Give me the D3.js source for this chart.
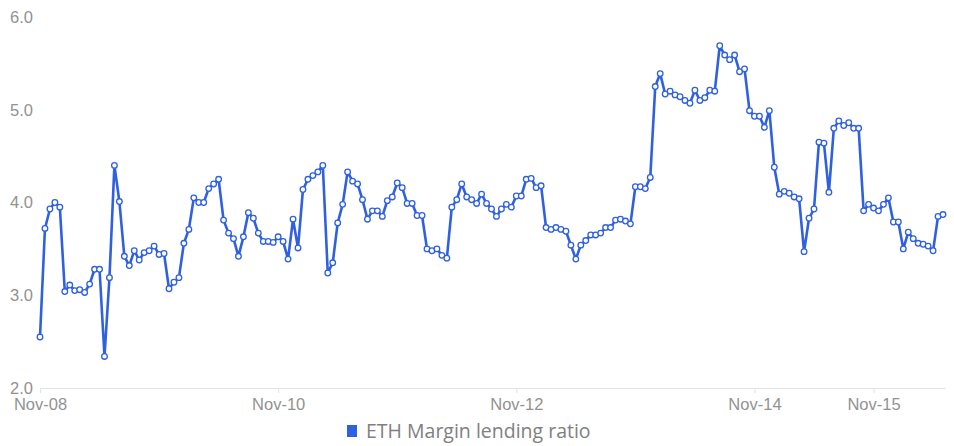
<!DOCTYPE html>
<html>
<head>
<meta charset="utf-8">
<script src="https://cdn.jsdelivr.net/npm/d3@7"></script>
<style>
  html, body { margin: 0; padding: 0; background: #fff; }
  svg { display: block; font-family: "Open Sans", "Noto Sans", sans-serif; }
</style>
</head>
<body>
<svg id="chart" width="954" height="446"></svg>
<script>
// ---- data ----
const seriesName = "ETH Margin lending ratio";
const startTime = "2023-11-08T00:00:00"; // hourly observations
const ratioValues = [
  2.55, 3.72, 3.93, 4.00, 3.95, 3.04, 3.11, 3.05, 3.06, 3.03, 3.12, 3.28, 3.28, 2.34, 3.19, 4.40,
  4.01, 3.42, 3.32, 3.48, 3.38, 3.46, 3.48, 3.53, 3.44, 3.45, 3.07, 3.14, 3.19, 3.56, 3.71, 4.05,
  4.00, 4.00, 4.15, 4.20, 4.25, 3.81, 3.67, 3.61, 3.42, 3.63, 3.89, 3.83, 3.67, 3.58, 3.58, 3.57,
  3.63, 3.58, 3.39, 3.82, 3.51, 4.14, 4.25, 4.29, 4.33, 4.40, 3.24, 3.35, 3.78, 3.98, 4.33, 4.23,
  4.20, 4.03, 3.82, 3.91, 3.91, 3.85, 4.02, 4.06, 4.21, 4.16, 3.99, 3.99, 3.86, 3.86, 3.50, 3.48,
  3.50, 3.43, 3.40, 3.95, 4.03, 4.20, 4.06, 4.03, 3.99, 4.09, 3.99, 3.93, 3.85, 3.93, 3.98, 3.95,
  4.07, 4.07, 4.25, 4.26, 4.16, 4.18, 3.73, 3.71, 3.73, 3.71, 3.69, 3.54, 3.39, 3.54, 3.59, 3.65,
  3.65, 3.67, 3.73, 3.73, 3.81, 3.82, 3.80, 3.77, 4.17, 4.17, 4.15, 4.27, 5.25, 5.39, 5.17, 5.20,
  5.16, 5.14, 5.10, 5.07, 5.21, 5.10, 5.13, 5.21, 5.20, 5.69, 5.59, 5.54, 5.59, 5.41, 5.44, 4.99,
  4.93, 4.93, 4.81, 4.99, 4.38, 4.09, 4.12, 4.10, 4.06, 4.04, 3.47, 3.83, 3.93, 4.65, 4.64, 4.11,
  4.80, 4.88, 4.83, 4.86, 4.80, 4.80, 3.91, 3.98, 3.94, 3.91, 3.98, 4.05, 3.79, 3.79, 3.50, 3.68,
  3.61, 3.56, 3.55, 3.53, 3.48, 3.85, 3.87
];
const xTickDates = ["2023-11-08", "2023-11-10", "2023-11-12", "2023-11-14", "2023-11-15"];
const yTickValues = [2, 3, 4, 5, 6];

// ---- build ----
const t0 = new Date(startTime);
const data = ratioValues.map((v, i) => ({ date: d3.timeHour.offset(t0, i), value: v }));

const svg = d3.select("#chart");
const color = "#2f60e2";
const labelColor = "#929292";

const x = d3.scaleTime()
  .domain(d3.extent(data, d => d.date))
  .range([40, 943]);
const y = d3.scaleLinear().domain([2, 6]).range([388, 17]);

// x axis
const xAxis = d3.axisBottom(x)
  .tickValues(xTickDates.map(s => new Date(s + "T00:00:00")))
  .tickFormat(d3.timeFormat("%b-%d"))
  .tickSize(5)
  .tickSizeOuter(0);
const gx = svg.append("g").attr("transform", "translate(0,388)").call(xAxis);
gx.select(".domain").attr("stroke", "#e3e3e3").attr("stroke-width", 1.2)
  .attr("d", "M40,0.5H946");
gx.selectAll(".tick line").attr("stroke", "#e3e3e3");
gx.selectAll(".tick text").attr("fill", labelColor).attr("font-size", 16.5).attr("dy", "0.85em");

// y axis labels (no line)
const yAxis = d3.axisLeft(y).tickValues(yTickValues).tickFormat(d3.format(".1f")).tickSize(0).tickPadding(7);
const gy = svg.append("g").attr("transform", "translate(40,0)").call(yAxis);
gy.select(".domain").remove();
gy.selectAll(".tick text").attr("fill", labelColor).attr("font-size", 16.5);

// line
const line = d3.line().x(d => x(d.date)).y(d => y(d.value));
svg.append("path").datum(data)
  .attr("fill", "none").attr("stroke", color).attr("stroke-width", 2.6)
  .attr("stroke-linejoin", "round").attr("d", line);

// points
svg.append("g").selectAll("circle").data(data).join("circle")
  .attr("cx", d => x(d.date)).attr("cy", d => y(d.value))
  .attr("r", 2.8).attr("fill", "#fff").attr("stroke", color).attr("stroke-width", 1.3);

// legend
const lg = svg.append("g").attr("transform", "translate(347,425)");
lg.append("rect").attr("width", 10).attr("height", 12).attr("fill", color);
lg.append("text").attr("x", 19).attr("y", 6).attr("dy", "0.35em")
  .attr("fill", "#808080").attr("font-size", 19.5).text(seriesName);
</script>
</body>
</html>
